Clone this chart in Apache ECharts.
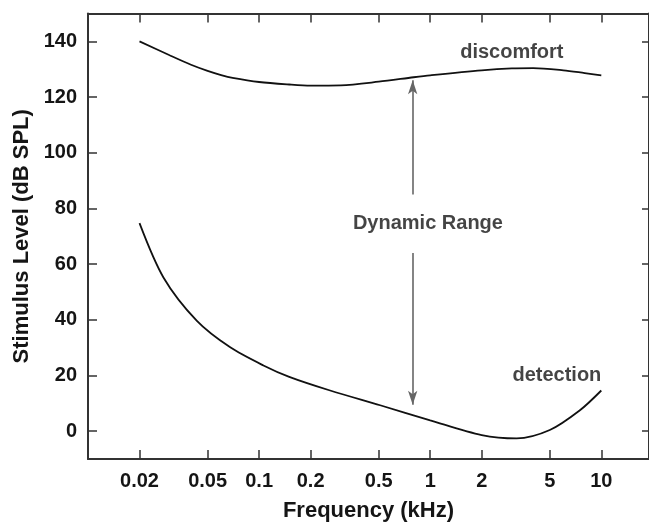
<!DOCTYPE html>
<html>
<head>
<meta charset="utf-8">
<title>Dynamic Range</title>
<script src="https://cdn.jsdelivr.net/npm/echarts@6/dist/echarts.min.js"></script>
<style>
  html, body { margin: 0; padding: 0; background: #fff; }
  #chart { width: 649px; height: 527px; }
</style>
</head>
<body>
<div id="chart"></div>
<script>
// frequency (kHz) / level (dB SPL)
const discomfortFreq = [0.02, 0.03, 0.04, 0.05, 0.06, 0.07, 0.1, 0.15, 0.2, 0.3, 0.5, 0.8, 1, 2, 3, 4, 6, 8, 10]
const discomfortLevel = [140, 135, 131.6, 129.4, 127.9, 126.9, 125.4, 124.5, 124.1, 124.2, 125.5, 127.1, 127.8, 129.6, 130.3, 130.4, 129.6, 128.6, 127.8]

const detectionFreq = [0.02, 0.0276, 0.0433, 0.0678, 0.106, 0.15, 0.26, 0.51, 1, 2, 3.2, 5, 7.5, 10]
const detectionLevel = [74.7, 55.2, 39.6, 30.1, 23.6, 19.5, 14.6, 9.3, 3.9, -1.4, -2.6, 0.4, 7.5, 14.6]

const xTicks = [0.02, 0.05, 0.1, 0.2, 0.5, 1, 2, 5, 10]
const yTicks = [0, 20, 40, 60, 80, 100, 120, 140]

// annotations: [freq, level, text]
const notes = [
  [3.0, 136, 'discomfort'],
  [5.5, 20, 'detection'],
  [0.97, 74.5, 'Dynamic Range']
]
// arrows: [freq, from level, to level]
const arrows = [
  [0.79, 85, 126],
  [0.79, 64, 9.5]
]

const chart = echarts.init(document.getElementById('chart'))

const font = 'Liberation Sans, Arial, sans-serif'
const ink = '#151515'

const toPairs = (xs, ys) => xs.map((x, i) => [x, ys[i]])

const frameLine = { onZero: false, lineStyle: { color: '#333', width: 2 } }

const option = {
  animation: false,
  grid: {
    left: 88,
    right: -2,
    top: 13.5,
    bottom: 64
  },
  xAxis: [{
    type: 'log',
    logBase: 10,
    min: 0.01,
    max: 19,
    name: 'Frequency (kHz)',
    nameLocation: 'middle',
    nameGap: 41,
    nameTextStyle: { fontFamily: font, fontWeight: 'bold', fontSize: 22, color: ink },
    axisLine: frameLine,
    axisTick: { inside: true, length: 9, customValues: xTicks, lineStyle: { color: '#333', width: 1.5 } },
    axisLabel: {
      customValues: xTicks,
      margin: 12,
      fontFamily: font, fontWeight: 'bold', fontSize: 20, color: ink,
      formatter: v => String(v)
    },
    splitLine: { show: false },
    minorTick: { show: false }
  }, {
    type: 'log',
    logBase: 10,
    min: 0.01,
    max: 19,
    position: 'top',
    axisLine: frameLine,
    axisTick: { inside: true, length: 9, customValues: xTicks, lineStyle: { color: '#333', width: 1.5 } },
    axisLabel: { show: false },
    splitLine: { show: false }
  }],
  yAxis: [{
    type: 'value',
    min: -10,
    max: 150,
    name: 'Stimulus Level (dB SPL)',
    nameLocation: 'middle',
    nameGap: 55,
    nameTextStyle: { fontFamily: font, fontWeight: 'bold', fontSize: 22, color: ink },
    axisLine: { show: true, onZero: false, lineStyle: { color: '#333', width: 2 } },
    axisTick: { show: true, inside: true, length: 9, customValues: yTicks, lineStyle: { color: '#333', width: 1.5 } },
    axisLabel: {
      customValues: yTicks,
      margin: 11,
      fontFamily: font, fontWeight: 'bold', fontSize: 20, color: ink
    },
    splitLine: { show: false }
  }, {
    type: 'value',
    min: -10,
    max: 150,
    position: 'right',
    axisLine: { show: true, onZero: false, lineStyle: { color: '#333', width: 2 } },
    axisTick: { show: true, inside: true, length: 7, customValues: yTicks, lineStyle: { color: '#333', width: 1.5 } },
    axisLabel: { show: false },
    splitLine: { show: false }
  }],
  series: [{
    name: 'discomfort',
    type: 'line',
    data: toPairs(discomfortFreq, discomfortLevel),
    smooth: 0.3,
    symbol: 'none',
    lineStyle: { color: '#111', width: 1.8 }
  }, {
    name: 'detection',
    type: 'line',
    data: toPairs(detectionFreq, detectionLevel),
    smooth: 0.3,
    symbol: 'none',
    lineStyle: { color: '#111', width: 1.8 },
    markLine: {
      silent: true,
      symbol: ['none', 'arrow'],
      symbolSize: [7, 14],
      label: { show: false },
      lineStyle: { color: '#666', width: 1.6, type: 'solid' },
      data: arrows.map(a => [{ coord: [a[0], a[1]] }, { coord: [a[0], a[2]] }])
    }
  }, {
    name: 'notes',
    type: 'scatter',
    symbolSize: 0,
    data: notes.map(n => ({ value: [n[0], n[1]], text: n[2] })),
    label: {
      show: true,
      position: 'inside',
      formatter: p => p.data.text,
      fontFamily: font, fontWeight: 'bold', fontSize: 20, color: ink
    }
  }]
}

chart.setOption(option)
</script>
</body>
</html>
